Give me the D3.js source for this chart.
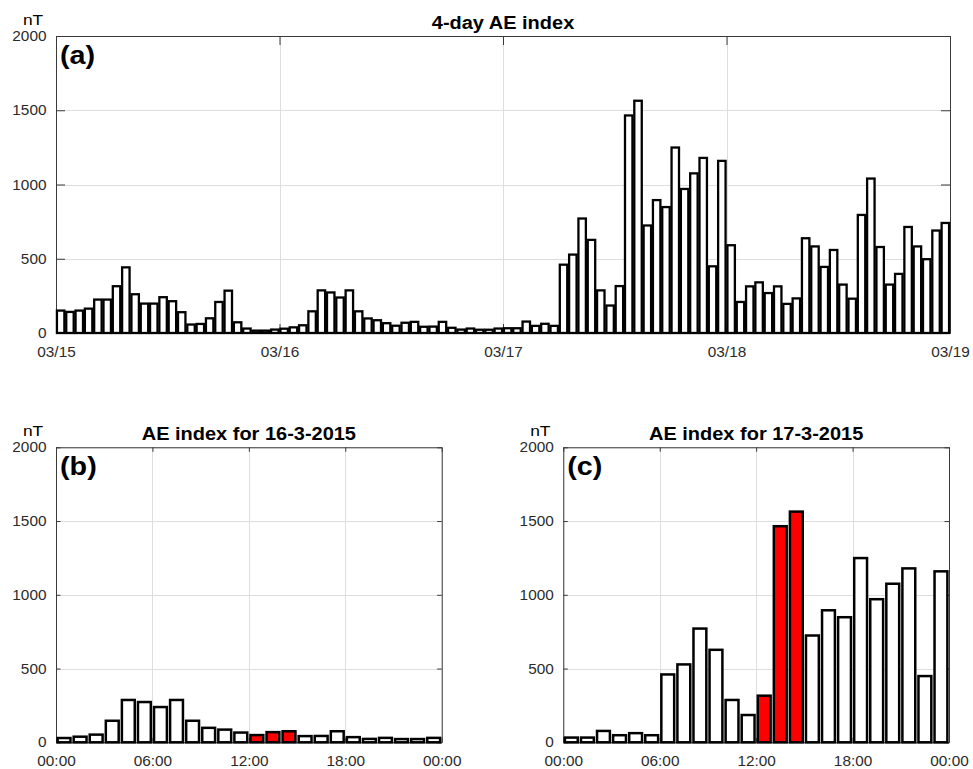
<!DOCTYPE html>
<html>
<head>
<meta charset="utf-8">
<script src="https://cdn.jsdelivr.net/npm/d3@7"></script>
<style>
  html, body { margin: 0; padding: 0; background: #fff; }
  svg { display: block; font-family: "Liberation Sans", Arial, Helvetica, sans-serif; }
</style>
</head>
<body>
<svg id="chart" width="973" height="769"></svg>
<script>
// Hourly AE index (nT), one array per UT day
const day15 = [151, 142, 151, 164, 225, 225, 315, 442, 261, 198, 198, 241, 214, 140, 57, 61, 99, 209, 285, 72, 30, 16, 16, 23];
const day16 = [29, 38, 52, 146, 287, 273, 239, 287, 146, 98, 86, 66, 49, 69, 75, 42, 43, 75, 35, 23, 30, 22, 22, 30];
const day17 = [32, 32, 77, 48, 62, 48, 460, 528, 771, 627, 287, 185, 316, 1465, 1564, 724, 895, 848, 1249, 970, 1075, 1179, 449, 1159];
const day18 = [591, 209, 314, 341, 269, 314, 196, 233, 638, 583, 445, 559, 326, 231, 795, 1040, 579, 326, 398, 714, 583, 497, 690, 741];

// Hours (UT) highlighted in the single-day panels
const highlightHours = [12, 13, 14];

const yTicks = [0, 500, 1000, 1500, 2000];
const dayTickHours = [0, 24, 48, 72, 96];
const dayTickLabels = ["03/15", "03/16", "03/17", "03/18", "03/19"];
const hourTickHours = [0, 6, 12, 18, 24];
const hourTickLabels = ["00:00", "06:00", "12:00", "18:00", "00:00"];

const fourDays = day15.concat(day16, day17, day18);

const svg = d3.select("#chart");

// stretch a text element horizontally about its anchor point
function widen(sel, sx) {
  sel.each(function () {
    const t = d3.select(this);
    const x = +t.attr("x") || 0;
    t.attr("transform", `translate(${x},0) scale(${sx},1) translate(${-x},0)`);
  });
}

function addText(g, x, y, str, opt) {
  return g.append("text")
    .attr("x", 0).attr("y", 0)
    .attr("transform", `translate(${x},${y}) scale(${opt.sx || 1},1)`)
    .attr("text-anchor", opt.anchor || "middle")
    .attr("font-size", opt.size)
    .attr("font-weight", opt.weight || "normal")
    .attr("fill", opt.fill || "#000")
    .text(str);
}

function drawPanel(p) {
  const g = svg.append("g");
  const x = d3.scaleLinear().domain([0, p.values.length]).range([p.left, p.right]);
  const y = d3.scaleLinear().domain([0, 2000]).range([p.bottom, p.top]);

  // grid
  g.append("g").selectAll("line").data(yTicks).join("line")
    .attr("x1", p.left).attr("x2", p.right)
    .attr("y1", d => Math.round(y(d)) + 0.5).attr("y2", d => Math.round(y(d)) + 0.5)
    .attr("stroke", "#dedede").attr("stroke-width", 1);
  g.append("g").selectAll("line").data(p.xTicks).join("line")
    .attr("x1", d => Math.round(x(d)) + 0.5).attr("x2", d => Math.round(x(d)) + 0.5)
    .attr("y1", p.top).attr("y2", p.bottom)
    .attr("stroke", "#dedede").attr("stroke-width", 1);

  const boxColor = "#3a3a3a";
  const styleAxis = a => {
    a.selectAll("path.domain").attr("stroke", boxColor);
    a.selectAll(".tick line").attr("stroke", boxColor);
    a.selectAll("text").attr("fill", "#2b2b2b").attr("font-size", 14.5)
      .attr("font-family", "'Liberation Sans', Arial, Helvetica, sans-serif");
  };

  // axes with inward ticks on all four sides
  const bottomAxis = g.append("g").attr("transform", `translate(0,${p.bottom})`)
    .call(d3.axisBottom(x).tickValues(p.xTicks).tickFormat((d, i) => p.xLabels[i])
      .tickSizeInner(-p.tickLen).tickSizeOuter(0).tickPadding(13.5));
  styleAxis(bottomAxis);
  widen(bottomAxis.selectAll("text"), 1.06);

  g.append("g").attr("transform", `translate(0,${p.top})`)
    .call(d3.axisTop(x).tickValues(p.xTicks).tickFormat("")
      .tickSizeInner(-p.tickLen).tickSizeOuter(0)).call(styleAxis);

  const leftAxis = g.append("g").attr("transform", `translate(${p.left},0)`)
    .call(d3.axisLeft(y).tickValues(yTicks).tickFormat(d3.format("d"))
      .tickSizeInner(-p.tickLen).tickSizeOuter(0).tickPadding(9.5));
  styleAxis(leftAxis);
  widen(leftAxis.selectAll("text"), 1.06);

  g.append("g").attr("transform", `translate(${p.right},0)`)
    .call(d3.axisRight(y).tickValues(yTicks).tickFormat("")
      .tickSizeInner(-p.tickLen).tickSizeOuter(0)).call(styleAxis);

  // hourly bars
  const bw = 0.8;
  g.append("g").selectAll("rect").data(p.values).join("rect")
    .attr("x", (d, i) => x(i + (1 - bw) / 2))
    .attr("width", x(bw) - x(0))
    .attr("y", d => y(d))
    .attr("height", d => y(0) - y(d))
    .attr("fill", (d, i) => p.red && p.red.includes(i) ? "#ff0000" : "#ffffff")
    .attr("stroke", "#000")
    .attr("stroke-width", p.strokeW);

  // labels
  addText(g, (p.left + p.right) / 2, p.top - 7.5, p.title, { size: 18.5, weight: "bold", sx: 1.08 });
  addText(g, p.left - 23, p.top - 11.5, "nT", { size: 15.5, sx: 1.12 });
  addText(g, p.left + 4, p.top + 28, p.tag, { size: 25, weight: "bold", anchor: "start", sx: 1.15 });
}

drawPanel({
  left: 56, right: 950, top: 36, bottom: 333,
  values: fourDays, xTicks: dayTickHours, xLabels: dayTickLabels,
  tickLen: 9, strokeW: 2.3, title: "4-day AE index", tag: "(a)"
});

drawPanel({
  left: 56, right: 441.7, top: 447.3, bottom: 742.3,
  values: day16, xTicks: hourTickHours, xLabels: hourTickLabels, red: highlightHours,
  tickLen: 4.5, strokeW: 2.5, title: "AE index for 16-3-2015", tag: "(b)"
});

drawPanel({
  left: 563.3, right: 949, top: 447.3, bottom: 742.3,
  values: day17, xTicks: hourTickHours, xLabels: hourTickLabels, red: highlightHours,
  tickLen: 4.5, strokeW: 2.5, title: "AE index for 17-3-2015", tag: "(c)"
});
</script>
</body>
</html>
